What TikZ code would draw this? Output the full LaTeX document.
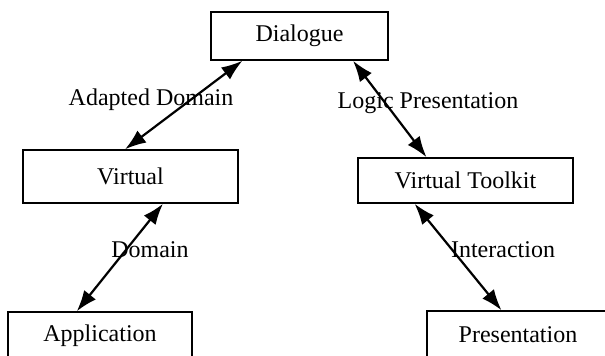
\documentclass[tikz,border=0pt]{standalone}
\usepackage{fontspec}
\setmainfont{Liberation Serif}
\usetikzlibrary{calc, arrows.meta}

\begin{document}
\begin{tikzpicture}[x=0.5pt, y=-0.5pt,
  box/.style={draw, line width=0.75pt, inner sep=0pt},
  link/.style={<->, >={Latex[length=10.5pt,width=7.5pt]}, line width=1.1pt},
  every node/.append style={font=\fontsize{12pt}{14pt}\selectfont}]
  \clip (0,0) rectangle (605,355);
% layers
  \node[box, minimum width=88.5pt, minimum height=24pt] (D) at (299.5,36) {Dialogue};
  \node[box, minimum width=107.5pt, minimum height=26.5pt] (V) at (130.5,176.5) {Virtual};
  \node[box, minimum width=107.5pt, minimum height=22.5pt] (VT) at (465.5,180.5) {Virtual Toolkit};
  \node[box, minimum width=92pt, minimum height=24pt] (A) at (100,336) {Application};
  \node[box, minimum width=91pt, minimum height=24pt] (P) at (518,335) {Presentation};
% labels
  \node (L1) at (151,100) {Adapted Domain};
  \node (L2) at (428,103) {Logic Presentation};
  \node (L3) at (150,250) {Domain};
  \node (L4) at (503,250) {Interaction};
% links
  \draw[link] ($(D.south west)!.18!(D.south east)$) -- ($(V.north west)!.475!(V.north east)$);
  \draw[link] ($(D.south west)!.80!(D.south east)$) -- ($(VT.north west)!.32!(VT.north east)$);
  \draw[link] ($(V.south west)!.65!(V.south east)$) -- ($(A.north west)!.375!(A.north east)$);
  \draw[link] ($(VT.south west)!.265!(VT.south east)$) -- ($(P.north west)!.41!(P.north east)$);
\end{tikzpicture}
\end{document}
